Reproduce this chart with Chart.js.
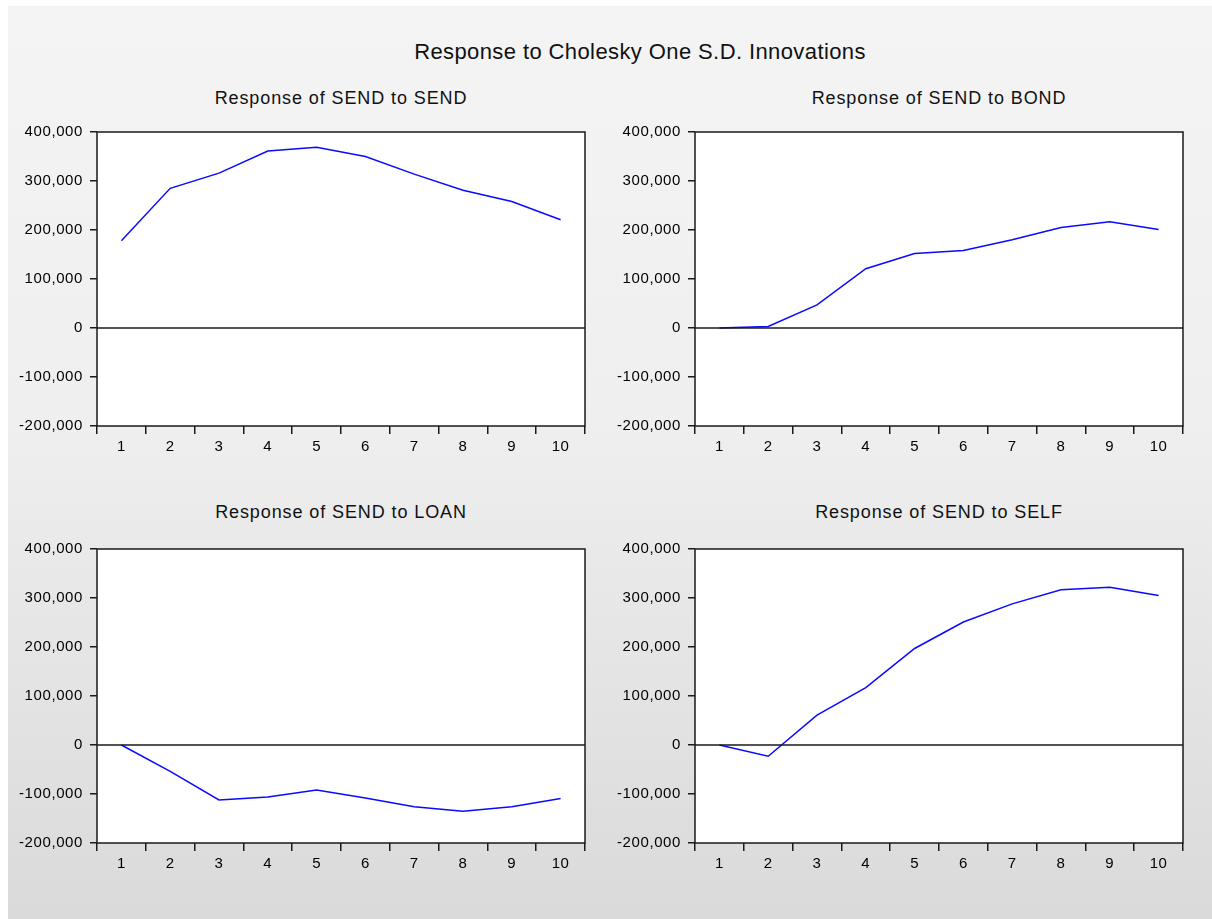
<!DOCTYPE html>
<html>
<head>
<meta charset="utf-8">
<script src="https://cdn.jsdelivr.net/npm/chart.js@4"></script>
<style>
    body {
        margin: 0;
        width: 1212px;
        height: 919px;
        background: #ffffff;
        overflow: hidden;
        font-family: "Liberation Sans", Arial, sans-serif;
    }
    #page {
        position: absolute;
        left: 8px;
        top: 6px;
        width: 1204px;
        height: 913px;
        background: linear-gradient(#f4f4f4 0%, #efefef 45%, #dadada 100%);
    }
    .title {
        position: absolute;
        white-space: nowrap;
        transform: translate(-50%, -50%);
        color: #111;
    }
    .sub { font-size: 18px; letter-spacing: 0.9px; }
    canvas { position: absolute; }
</style>
</head>
<body>
<div id="page"></div>
<div class="title" style="left:640px; top:52px; font-size:22px; letter-spacing:0.4px;">Response to Cholesky One S.D. Innovations</div>
<div class="title sub" style="left:341px; top:98px;">Response of SEND to SEND</div>
<div class="title sub" style="left:939px; top:98px;">Response of SEND to BOND</div>
<div class="title sub" style="left:341px; top:512px;">Response of SEND to LOAN</div>
<div class="title sub" style="left:939px; top:512px;">Response of SEND to SELF</div>

<canvas id="c1"></canvas>
<canvas id="c2"></canvas>
<canvas id="c3"></canvas>
<canvas id="c4"></canvas>

<script>
// Periods on the x axis
var periods = ['1', '2', '3', '4', '5', '6', '7', '8', '9', '10'];

// Responses
var sendToSend = [178000, 285000, 316000, 361000, 369000, 350000, 314000, 281000, 258000, 221000];
var sendToBond = [0, 3000, 47000, 121000, 152000, 158000, 180000, 205000, 217000, 201000];
var sendToLoan = [0, -54000, -112000, -106000, -92000, -108000, -126000, -135000, -126000, -109000];
var sendToSelf = [0, -23000, 61000, 117000, 197000, 251000, 288000, 317000, 322000, 305000];

// Y axis range
var yMin = -200000;
var yMax = 400000;
var yStep = 100000;

// plot box sizes (px)
var plotW = 488;
var plotH = 294;
var leftW = 87;   // room for y labels
var topPad = 22;
var rightPad = 20;
var bottomH = 44; // room for x labels

// Draws the box around the plot and the zero line
var framePlugin = {
    id: 'frame',
    beforeDraw: function(chart) {
        // tick labels in the original are a little spread out
        chart.ctx.letterSpacing = '0.6px';
    },
    afterDraw: function(chart) {
        var ctx = chart.ctx;
        var a = chart.chartArea;
        var y0 = chart.scales.y.getPixelForValue(0);
        ctx.save();
        ctx.strokeStyle = '#1a1a1a';
        ctx.lineWidth = 1.5;
        ctx.beginPath();
        ctx.moveTo(a.left, y0);
        ctx.lineTo(a.right, y0);
        ctx.stroke();
        ctx.strokeRect(a.left, a.top, a.right - a.left, a.bottom - a.top);
        ctx.restore();
    },
    beforeDatasetsDraw: function(chart) {
        // white plot background
        var ctx = chart.ctx;
        var a = chart.chartArea;
        ctx.save();
        ctx.fillStyle = '#ffffff';
        ctx.fillRect(a.left, a.top, a.right - a.left, a.bottom - a.top);
        ctx.restore();
    }
};

function makePanel(id, values, plotLeft, plotTop) {
    var canvas = document.getElementById(id);
    var w = leftW + plotW + rightPad;
    var h = topPad + plotH + bottomH;
    canvas.width = w;
    canvas.height = h;
    canvas.style.width = w + 'px';
    canvas.style.height = h + 'px';
    canvas.style.left = (plotLeft - leftW) + 'px';
    canvas.style.top = (plotTop - topPad) + 'px';

    new Chart(canvas.getContext('2d'), {
        type: 'line',
        data: {
            labels: periods,
            datasets: [{
                data: values,
                borderColor: '#0a0aff',
                borderWidth: 1.5,
                pointRadius: 0,
                tension: 0,
                fill: false
            }]
        },
        options: {
            responsive: false,
            animation: false,
            layout: { padding: { top: topPad, right: rightPad, left: 0, bottom: 0 } },
            plugins: {
                legend: { display: false },
                tooltip: { enabled: false }
            },
            scales: {
                x: {
                    type: 'category',
                    offset: true,
                    afterFit: function(scale) { scale.height = bottomH; },
                    grid: {
                        offset: true,
                        drawOnChartArea: false,
                        drawTicks: true,
                        tickLength: 8,
                        color: '#1a1a1a',
                        lineWidth: 1.5
                    },
                    border: { display: false },
                    ticks: {
                        color: '#000',
                        padding: 4,
                        maxRotation: 0,
                        autoSkip: false,
                        font: { family: 'Liberation Sans', size: 15 }
                    }
                },
                y: {
                    min: yMin,
                    max: yMax,
                    afterFit: function(scale) { scale.width = leftW; },
                    grid: {
                        drawOnChartArea: false,
                        drawTicks: true,
                        tickLength: 7,
                        color: '#1a1a1a',
                        lineWidth: 1.5
                    },
                    border: { display: false },
                    ticks: {
                        stepSize: yStep,
                        color: '#000',
                        padding: 7,
                        font: { family: 'Liberation Sans', size: 15 },
                        callback: function(v) { return v.toLocaleString('en-US'); }
                    }
                }
            }
        },
        plugins: [framePlugin]
    });
}

makePanel('c1', sendToSend, 97, 132);
makePanel('c2', sendToBond, 695, 132);
makePanel('c3', sendToLoan, 97, 549);
makePanel('c4', sendToSelf, 695, 549);
</script>
</body>
</html>
